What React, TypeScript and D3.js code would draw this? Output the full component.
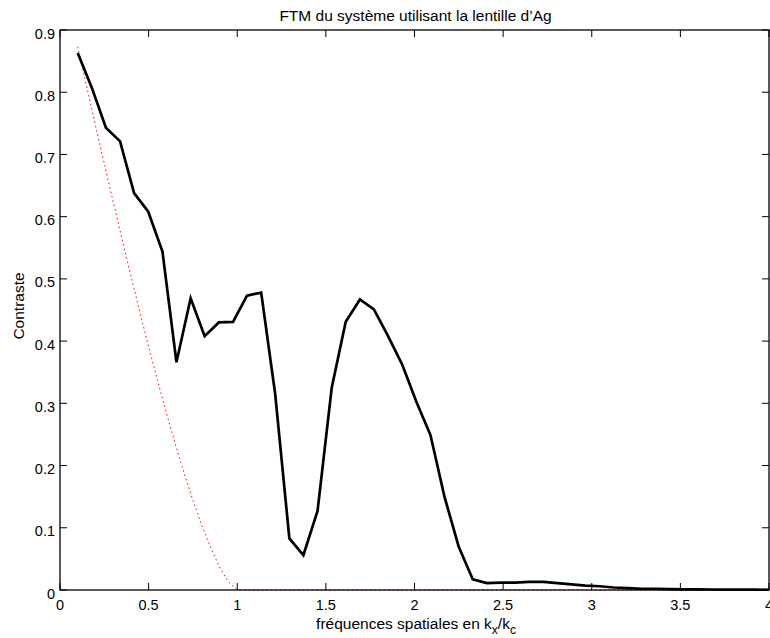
import React from "react";
import * as d3 from "d3";

const measuredX = [
  0.1, 0.18, 0.259, 0.339, 0.418, 0.498, 0.578, 0.657, 0.737, 0.816,
  0.896, 0.976, 1.055, 1.135, 1.214, 1.294, 1.373, 1.453, 1.533, 1.612,
  1.692, 1.771, 1.851, 1.931, 2.01, 2.09, 2.169, 2.249, 2.329, 2.408,
  2.488, 2.567, 2.647, 2.727, 2.806, 2.886, 2.965, 3.045, 3.124, 3.204,
  3.284, 3.363, 3.443, 3.522, 3.602, 3.682, 3.761, 3.841, 3.92, 4.0,
];
const measuredY = [
  0.863, 0.807, 0.743, 0.721, 0.638, 0.608, 0.544, 0.366, 0.469, 0.408,
  0.43, 0.431, 0.473, 0.478, 0.315, 0.083, 0.056, 0.127, 0.325, 0.431,
  0.467, 0.451, 0.408, 0.362, 0.303, 0.249, 0.15, 0.07, 0.017, 0.011,
  0.012, 0.012, 0.013, 0.013, 0.011, 0.009, 0.007, 0.006, 0.004, 0.003,
  0.002, 0.002, 0.0015, 0.001, 0.001, 0.0008, 0.0006, 0.0005, 0.0005, 0.0004,
];

const limitX = [
  0.1, 0.15, 0.2, 0.25, 0.3, 0.35, 0.4, 0.45, 0.5, 0.55,
  0.6, 0.65, 0.7, 0.75, 0.8, 0.85, 0.9, 0.95, 1.0, 4.0,
];
const limitY = [
  0.873, 0.81, 0.747, 0.685, 0.624, 0.564, 0.505, 0.447, 0.391, 0.337,
  0.285, 0.235, 0.188, 0.144, 0.104, 0.068, 0.037, 0.013, 0, 0,
];

const xTicks = [0, 0.5, 1, 1.5, 2, 2.5, 3, 3.5, 4];
const yTicks = [0, 0.1, 0.2, 0.3, 0.4, 0.5, 0.6, 0.7, 0.8, 0.9];

const titleText = "FTM du système utilisant la lentille d’Ag";
const yLabel = "Contraste";

export default function App() {
  const W = 770;
  const H = 638;
  const L = 60;
  const R = 769;
  const T = 30;
  const B = 590;
  const x = d3.scaleLinear().domain([0, 4]).range([L, R]);
  const y = d3.scaleLinear().domain([0, 0.9]).range([B, T]);
  const font = "Liberation Sans, Arial, Helvetica, sans-serif";
  const tl = 7;
  const tickFs = 14.5;
  const labelFs = 15.5;

  const line = d3
    .line<[number, number]>()
    .x((d) => x(d[0]))
    .y((d) => y(d[1]));

  const black = line(measuredX.map((v, i) => [v, measuredY[i]] as [number, number])) || "";
  const red = line(limitX.map((v, i) => [v, limitY[i]] as [number, number])) || "";

  return (
    <svg
      width={W}
      height={H}
      style={{ position: "absolute", left: 0, top: 0, display: "block", background: "#fff" }}
    >
      <defs>
        <clipPath id="plotclip">
          <rect x={L} y={T - 2} width={R - L} height={B - T + 4} />
        </clipPath>
      </defs>
      <rect x={0} y={0} width={W} height={H} fill="#fff" />
      <g clipPath="url(#plotclip)">
        <path d={red} fill="none" stroke="#ff0000" strokeWidth={1} strokeDasharray="1.5,3" />
        <path d={black} fill="none" stroke="#000" strokeWidth={2.7} strokeLinejoin="miter" />
      </g>
      <rect x={L} y={T} width={R - L} height={B - T} fill="none" stroke="#000" strokeWidth={1.3} />
      {xTicks.map((t) => (
        <g key={"x" + t}>
          <line x1={x(t)} x2={x(t)} y1={B} y2={B - tl} stroke="#000" strokeWidth={1} />
          <line x1={x(t)} x2={x(t)} y1={T} y2={T + tl} stroke="#000" strokeWidth={1} />
          <text x={x(t)} y={B + 19.5} textAnchor="middle" fontFamily={font} fontSize={tickFs}>
            {String(t)}
          </text>
        </g>
      ))}
      {yTicks.map((t) => (
        <g key={"y" + t}>
          <line x1={L} x2={L + tl} y1={y(t)} y2={y(t)} stroke="#000" strokeWidth={1} />
          <line x1={R} x2={R - tl} y1={y(t)} y2={y(t)} stroke="#000" strokeWidth={1} />
          <text x={L - 5} y={y(t) + 8.5} textAnchor="end" fontFamily={font} fontSize={tickFs}>
            {String(t)}
          </text>
        </g>
      ))}
      <text x={415.5} y={20.5} textAnchor="middle" fontFamily={font} fontSize={labelFs}>
        {titleText}
      </text>
      <text x={416} y={628.5} textAnchor="middle" fontFamily={font} fontSize={labelFs}>
        fréquences spatiales en k
        <tspan fontSize={12} dy={5}>x</tspan>
        <tspan dy={-5}>/k</tspan>
        <tspan fontSize={12} dy={5}>c</tspan>
      </text>
      <text
        transform={`translate(24,306) rotate(-90)`}
        textAnchor="middle"
        fontFamily={font}
        fontSize={labelFs}
      >
        {yLabel}
      </text>
    </svg>
  );
}
